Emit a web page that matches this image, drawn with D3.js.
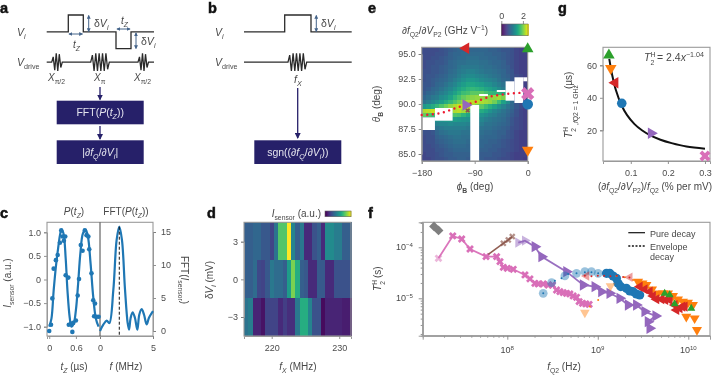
<!DOCTYPE html>
<html>
<head>
<meta charset="utf-8">
<script src="https://cdn.jsdelivr.net/npm/d3@7"></script>
<style>
  body { margin: 0; background: #fff; }
  svg { filter: blur(0.3px); }
  text { font-family: "Liberation Sans", sans-serif; fill: #484848; }
</style>
</head>
<body>
<div id="chart"></div>
<script>
const W = 722, H = 376;

// panel c
const tzFit = [0, .05, .1, .15, .2, .25, .277, .32, .37, .41, .46, .5, .55, .6, .65, .7, .76, .82, .87, .93, .99, 1.05, 1.11];
const iFit = [-1, -.83, -.23, .27, .66, .98, 1.05, .98, .45, -.23, -.8, -1, -.94, -.65, -.09, .55, .98, 1.05, .91, .34, -.37, -.83, -1];
const tzDots = [0, .04, .07, .1, .15, .19, .24, .27, .3, .33, .36, .37, .43, .44, .49, .52, .54, .6, .64, .67, .71, .75, .8, .84, .88, .9, .95, .99, 1.01, 1.03, 1.06, 1.11];
const iDots = [-1.09, -.96, -.4, .23, .41, .52, .78, 1.04, .91, .82, .91, .09, .04, -.96, -.94, -1.11, -.92, -.87, -.34, .01, .73, .61, 1.04, .94, .91, .64, .13, -.44, -.78, -.51, -.79, -.79];
const fftF = [0, .31, .63, .88, 1.26, 1.57, 1.82, 2.07, 2.36, 2.61, 2.74, 2.89, 3.08, 3.3, 3.52, 3.71, 3.93, 4.15, 4.4, 4.62, 5];
const fftV = [0, .96, 1.56, 1.2, 6.26, 13.8, 15.8, 13.8, 6.26, 1.2, .2, 1.97, 2.83, 1.97, .2, 2.5, 3.3, 2.5, 1, 2, 3];
const fftPeak = 1.82;

// panel d, rows are dV = 3, 0, -3
const dVRows = [3, 0, -3];
const fxStart = 215.9, fxStep = 0.6336;
const sensorTop = [.3, .3, .33, .33, .27, .27, .2, .38, .73, .73, 1, .45, .3, .4, .12, .12, .25, .3, .12, .48, .48, .42, .42, .3, .3];
const sensorMid = [.3, .3, .35, .22, .2, .27, .4, .35, .35, .3, .55, .8, .62, .3, .27, .12, .12, .28, .28, .12, .12, .25, .25, .25, .25];
const sensorBot = [.38, .42, .1, .1, .05, .2, .2, .2, .12, .18, .13, .13, .4, .62, .62, .45, .25, .25, .03, .1, .1, .1, .1, .08, .08];

// panel e, top row first, phi -180..0 in 24 columns
const dfdv = [
  [.6,.6,.6,.6,.65,.7,.75,.8,.85,.85,.85,.85,.85,.85,.85,.8,.8,.75,.7,.7,.65,.55,.5,.5],
  [.6,.6,.6,.65,.65,.7,.8,.85,.85,.9,.9,.9,.9,.9,.85,.85,.8,.8,.75,.7,.65,.55,.5,.5],
  [.6,.6,.65,.65,.7,.75,.8,.85,.9,.9,.95,.95,.95,.9,.9,.85,.85,.8,.75,.7,.65,.55,.5,.5],
  [.6,.65,.65,.7,.7,.75,.85,.9,.95,.95,1,1,1,.95,.95,.9,.85,.85,.8,.7,.65,.55,.5,.5],
  [.6,.65,.7,.7,.75,.8,.85,.9,1,1.05,1.05,1.05,1.05,1,.95,.95,.9,.85,.8,.75,.65,.55,.5,.5],
  [.65,.65,.7,.7,.75,.8,.9,.95,1.05,1.1,1.15,1.15,1.1,1.05,1,1,.95,.9,.85,.75,.7,.55,.5,.5],
  [.65,.7,.7,.75,.8,.85,.95,1,1.1,1.2,1.25,1.25,1.2,1.15,1.1,1.05,1,.95,.85,.8,.7,.6,.55,.5],
  [.65,.7,.75,.8,.85,.9,1,1.1,1.2,1.3,1.4,1.4,1.35,1.25,1.2,1.15,1.1,1,.9,.85,.7,.6,.55,.5],
  [.7,.7,.75,.85,.9,1,1.1,1.2,1.35,1.45,1.55,1.55,1.5,1.45,1.35,1.3,1.2,1.1,1,.9,.75,.6,.55,.5],
  [.7,.75,.85,.9,1,1.1,1.2,1.35,1.5,1.6,1.7,1.75,1.7,1.65,1.55,1.5,1.4,1.25,1.1,1,.8,.65,.55,.5],
  [.75,.85,.9,1,1.1,1.2,1.35,1.5,1.65,1.8,1.85,1.95,1.95,1.95,1.85,1.75,1.7,1.7,1.6,1.2,.9,.65,.55,.5],
  [.85,.95,1.05,1.1,1.25,1.35,1.5,1.7,1.85,2,2.1,2.15,2.2,2.2,2.15,2.15,2.2,2.25,2.1,1.5,1,.7,.6,.5],
  [1,1.1,1.2,1.3,1.45,1.6,1.75,1.9,2.05,2.2,2.3,2.35,2.35,2.3,2.25,2.2,2.05,1.8,1.5,1.25,.9,.7,.6,.5],
  [1.4,1.5,1.6,1.75,1.9,2.05,2.2,2.3,2.4,2.4,2.35,2.25,2.1,1.95,1.8,1.65,1.5,1.3,1.15,1,.85,.7,.6,.5],
  [2.3,2.35,2.4,2.3,2.2,2.1,2.05,2.3,2.35,2.25,2.05,1.85,1.7,1.6,1.5,1.35,1.2,1.1,1,.9,.8,.65,.55,.5],
  [2,1.9,1.8,1.8,1.75,1.7,1.7,1.9,1.85,1.7,1.55,1.45,1.4,1.35,1.25,1.15,1.1,1,.95,.85,.75,.65,.55,.5],
  [1,1,1,1.3,1.35,1.4,1.4,1.45,1.4,1.35,1.3,1.25,1.2,1.2,1.1,1.05,1,.95,.9,.8,.7,.6,.55,.5],
  [.9,.9,.9,1.15,1.2,1.2,1.25,1.2,1.2,1.2,1.15,1.1,1.1,1.1,1,1,.95,.9,.85,.8,.7,.6,.55,.5],
  [.7,.7,.75,1,1.05,1.1,1.1,1.1,1.1,1.1,1.05,1,1,1,.95,.95,.9,.85,.8,.75,.65,.6,.55,.5],
  [.65,.65,.7,.85,.95,1,1.05,1.05,1.05,1,1,.95,.95,.95,.9,.9,.85,.8,.8,.7,.65,.55,.5,.5],
  [.6,.65,.65,.8,.85,.9,.95,1,1,.95,.95,.9,.9,.9,.85,.85,.85,.8,.75,.7,.65,.55,.5,.5],
  [.6,.65,.65,.75,.8,.85,.9,.95,.95,.95,.9,.9,.9,.85,.85,.8,.8,.75,.7,.65,.6,.55,.5,.5],
  [.6,.6,.65,.7,.75,.8,.85,.9,.9,.9,.85,.85,.85,.85,.8,.8,.75,.75,.7,.65,.6,.55,.5,.5],
  [.6,.6,.6,.7,.7,.75,.8,.85,.85,.85,.85,.8,.8,.8,.8,.75,.75,.7,.65,.65,.6,.55,.5,.5],
  [.55,.6,.6,.65,.7,.75,.75,.8,.8,.8,.8,.8,.8,.75,.75,.75,.7,.7,.65,.6,.55,.5,.5,.5],
  [.55,.55,.6,.65,.65,.7,.75,.75,.8,.8,.75,.75,.75,.75,.7,.7,.7,.65,.6,.6,.55,.5,.5,.45]
];
const phiStart = -180, phiStep = 7.5, thetaTop = 95.67, thetaStep = .4373;
// missing measurements: [phi0, phi1, theta0, theta1]
const gaps = [
  [-180, -157.5, 87.4, 88.67], [-157.5, -127.5, 88.33, 89.6], [-97.5, -82.5, 84.3, 89.9],
  [-82.5, -67.5, 90.8, 91], [-52.5, -37.5, 91.2, 91.4], [-37.5, -22.5, 90.33, 92.27],
  [-22.5, -7.5, 90.1, 92.67], [-7.5, 0, 92.27, 92.67]
];
const sweetPhi = [-180, -149, -123.5, -93, -64, -36, -8, 0];
const sweetTheta = [88.9, 89.07, 89.57, 90.13, 90.73, 91, 91.13, 91.15];

// panel g
const gFitX = [.042, .05, .06, .075, .09, .11, .13, .15, .18, .21, .25, .3];
const gFitY = [64, 53.9, 44.6, 35.4, 29.3, 23.8, 20, 17.2, 14.2, 12.1, 10, 8.7];

// panel f, [log10 fQ2, log10 T2]
const pink = [[7.239,-4.216],[7.397,-3.778],[7.496,-3.837],[7.588,-4.033],[7.765,-4.183],[7.882,-4.183],[7.919,-4.281],[7.956,-4.392],[8,-4.412],[8.066,-4.431],[8.195,-4.542],[8.25,-4.62],[8.305,-4.706],[8.342,-4.719],[8.397,-4.719],[8.452,-4.739],[8.5,-4.739],[8.544,-4.837],[8.581,-4.869],[8.618,-4.889],[8.654,-4.902],[8.691,-4.915],[8.728,-4.954],[8.765,-4.98],[8.794,-5.065],[8.831,-5.098],[8.868,-5.111],[8.904,-5.118]];
const brown = [[7.79,-4.14],[7.956,-3.922],[8.011,-3.856],[8.055,-3.79]];
const gray = [[7.19,-3.59],[7.24,-3.67]];
const purple = [[8.121,-3.908],[8.195,-3.869],[8.305,-3.987],[8.379,-4.183],[8.654,-4.477],[8.838,-4.739],[8.967,-4.771],[9.04,-4.869],[9.132,-4.902],[9.243,-5],[9.335,-5.131],[9.426,-5.131],[9.518,-5.261],[9.64,-5.346],[9.555,-5.458],[9.574,-5.588]];
const blueLight = [[8.397,-4.902],[8.489,-4.693],[8.636,-4.562],[8.765,-4.51],[8.857,-4.477],[8.93,-4.477],[9.004,-4.51]];
const blueSolid = [[9.096,-4.51],[9.132,-4.51],[9.169,-4.562],[9.206,-4.608],[9.224,-4.706],[9.254,-4.771],[9.316,-4.804],[9.353,-4.856],[9.39,-4.869],[9.426,-4.915],[9.463,-4.935]];
const blueDots = [[8.397,-4.902],[8.526,-4.654],[8.599,-4.608],[8.673,-4.523],[8.765,-4.51],[8.857,-4.49],[8.93,-4.49],[9.004,-4.51]];
const orangeLight = [[8.857,-5.281],[9.14,-4.758]];
const orangeSolid = [[9.445,-4.673],[9.493,-4.706],[9.537,-4.739],[9.599,-4.824],[9.665,-4.902],[9.721,-4.902],[9.776,-4.902],[9.831,-4.954],[9.886,-5.02],[9.941,-5.065],[9.996,-5.085],[10.051,-5.131],[9.978,-5.359],[10.07,-5.392],[10.096,-5.621]];
const orangeDots = [[8.912,-5.163],[9.004,-5.033],[9.206,-4.562],[9.298,-4.588],[9.39,-4.641]];
const redLight = [[8.875,-4.562],[9.353,-4.588]];
const redSolid = [[9.463,-4.771],[9.518,-4.824],[9.574,-4.869],[9.61,-4.954],[9.647,-5.02],[9.702,-5.02],[9.746,-5.033],[9.794,-5.033],[9.849,-5.131],[9.904,-5.196],[9.934,-5.163],[9.96,-5.163],[9.868,-5.229]];
const redDots = [[8.857,-4.56],[8.93,-4.57],[9,-4.56],[9.07,-4.56],[9.14,-4.57],[9.21,-4.56],[9.28,-4.58],[9.35,-4.59]];
const green = [[9.739,-4.902],[9.794,-4.935],[9.849,-5.111],[10.033,-5.196]];

// markers shared by e and g: phi, theta, sensitivity, T2
const markerNames = ["green", "orange", "red", "blue", "purple", "pink"];
const markerPhi = [0, 0, -105, 0, -105, 0];
const markerTheta = [95.5, 85.4, 95.57, 89.97, 89.9, 91.03];
const markerSens = [.041, .046, .0576, .0757, .155, .3];
const markerT2 = [66.3, 58.2, 49.3, 36.6, 18.2, 4.2];

const colors = { blue: "#1f77b4", orange: "#ff7f0e", green: "#2ca02c", red: "#d62728", purple: "#9467bd", pink: "#d96fb8", brown: "#8c564b", gray: "#7f7f7f" };
const rot = { green: 0, purple: 90, orange: 180, red: 270 };
const navy = "#262069", slate = "#45648a", spine = "#9a9a9a", lineBlue = "#1f77b4";

const svg = d3.select("#chart").append("svg").attr("width", W).attr("height", H);
const defs = svg.append("defs");
defs.append("marker").attr("id", "headNavy").attr("viewBox", "0 0 6 6").attr("refX", 5).attr("refY", 3)
  .attr("markerWidth", 6).attr("markerHeight", 6).attr("markerUnits", "userSpaceOnUse").attr("orient", "auto-start-reverse")
  .append("path").attr("d", "M0,0L6,3L0,6Z").attr("fill", navy);
defs.append("marker").attr("id", "headSlate").attr("viewBox", "0 0 6 6").attr("refX", 5).attr("refY", 3)
  .attr("markerWidth", 4).attr("markerHeight", 4).attr("markerUnits", "userSpaceOnUse").attr("orient", "auto-start-reverse")
  .append("path").attr("d", "M0,0L6,3L0,6Z").attr("fill", slate);

// text with sub and superscripts, parts are [string, flags], i italic, s sub, u sup, b bold
function rich(x, y, parts, size, anchor, rotate, fill) {
  const t = svg.append("text").attr("font-size", size).attr("text-anchor", anchor || "start");
  if (rotate) t.attr("transform", `translate(${x},${y})rotate(${rotate})`);
  else t.attr("x", x).attr("y", y);
  if (fill) t.style("fill", fill);
  let shift = 0;
  parts.forEach(p => {
    const flags = p[1] || "";
    const target = flags.includes("s") ? size * .28 : flags.includes("u") ? -size * .38 : 0;
    const ts = t.append("tspan").text(p[0]).attr("dy", target - shift);
    shift = target;
    if (flags.includes("s") || flags.includes("u")) ts.attr("font-size", size * .68);
    if (flags.includes("i")) ts.attr("font-style", "italic");
    if (flags.includes("b")) ts.attr("font-weight", "bold");
    if (fill) ts.style("fill", fill);
  });
  return t;
}

function letter(x, y, s) {
  svg.append("text").attr("x", x).attr("y", y).attr("font-size", 14.5).attr("font-weight", "bold")
    .style("fill", "#111").style("stroke", "#111").style("stroke-width", .5).text(s);
}

function styleAxis(g) {
  g.selectAll("path").attr("stroke", spine).attr("stroke-width", 1);
  g.selectAll("line").attr("stroke", "#777").attr("stroke-width", .8);
  g.selectAll("text").attr("font-size", 9).attr("font-family", "Liberation Sans").style("fill", "#4c4c4c");
  return g;
}

function frame(x0, x1, y0, y1) {
  svg.append("rect").attr("x", x0).attr("y", y0).attr("width", x1 - x0).attr("height", y1 - y0)
    .attr("fill", "none").attr("stroke", spine).attr("stroke-width", 1.1);
}

function marker(g, name, cx, cy, size, opacity) {
  const isBlue = name === "blue", isPink = name === "pink" || name === "brown";
  const type = isBlue ? d3.symbolCircle : name === "gray" ? d3.symbolSquare : isPink ? d3.symbolCross : d3.symbolTriangle;
  const angle = name === "gray" || isPink ? 45 : (rot[name] || 0);
  g.append("path").attr("d", d3.symbol().type(type).size(size)())
    .attr("transform", `translate(${cx},${cy})rotate(${angle})`)
    .attr("fill", colors[name]).attr("fill-opacity", opacity === undefined ? 1 : opacity);
}

// ---- panels a and b, schematics
const pulseT = d3.scaleLinear().domain([0, 1]).range([0, 1]);
const level = d3.scaleLinear().domain([-1, 1]).range([48.7, 15]);
const viA = [[46.7, 0], [68.3, 0], [68.3, 1], [83.3, 1], [83.3, 0], [116, 0], [116, -1], [131, -1], [131, 0], [154, 0]];
const viB = [[244, 0], [284.7, 0], [284.7, 1], [311, 1], [311, 0], [351.7, 0]];
const wiggleShort = [0, .6, -.9, 1, -1, .9, -.6, 0];
const wiggleLong = [0, .8, -1, 1, -1, 1, -1, 1, -1, 1, -.8, 0];
const driveLevel = d3.scaleLinear().domain([-1, 1]).range([71, 53.3]);

function viLine(points) {
  svg.append("path").attr("d", d3.line().x(d => pulseT(d[0])).y(d => level(d[1]))(points))
    .attr("fill", "none").attr("stroke", "#2b2b2b").attr("stroke-width", 1.3);
}
function driveLine(x0, x1, packets) {
  const pts = [[x0, 0]];
  packets.forEach(p => {
    p[2].forEach((v, i) => pts.push([p[0] + i * (p[1] - p[0]) / (p[2].length - 1), v]));
  });
  pts.push([x1, 0]);
  svg.append("path").attr("d", d3.line().x(d => pulseT(d[0])).y(d => driveLevel(d[1]))(pts))
    .attr("fill", "none").attr("stroke", "#2b2b2b").attr("stroke-width", 1.3);
}
function doubleArrow(x1, y1, x2, y2) {
  svg.append("line").attr("x1", x1).attr("y1", y1).attr("x2", x2).attr("y2", y2).attr("stroke", slate).attr("stroke-width", 1)
    .attr("marker-start", "url(#headSlate)").attr("marker-end", "url(#headSlate)");
}
function downArrow(x, y1, y2) {
  svg.append("line").attr("x1", x).attr("x2", x).attr("y1", y1).attr("y2", y2).attr("stroke", navy).attr("stroke-width", 1.3)
    .attr("marker-end", "url(#headNavy)");
}
function navyBox(x0, x1, y0, y1, parts) {
  svg.append("rect").attr("x", x0).attr("y", y0).attr("width", x1 - x0).attr("height", y1 - y0).attr("fill", navy);
  rich((x0 + x1) / 2, (y0 + y1) / 2 + 3.5, parts, 10.5, "middle", 0, "#e4e4ee");
}
// T with H above and 2 below, drawn as separate texts so they stack
function tH2(x, y, size, rotate) {
  const at = (dx, dy) => rotate ? [x + dy, y - dx] : [x + dx, y + dy];
  const a = at(0, 0), b = at(size * .62, -size * .42), c = at(size * .62, size * .36);
  rich(a[0], a[1], [["T", "i"]], size, "start", rotate);
  rich(b[0], b[1], [["H"]], size * .66, "start", rotate);
  rich(c[0], c[1], [["2"]], size * .66, "start", rotate);
}

letter(0, 13, "a");
rich(17, 36, [["V", "i"], ["i", "si"]], 10.5);
rich(17, 66, [["V", "i"], ["drive", "s"]], 10.5);
viLine(viA);
driveLine(46.7, 154, [[51.7, 62.3, wiggleShort], [90.7, 109.3, wiggleLong], [138, 148.5, wiggleShort]]);
doubleArrow(88.7, 15.5, 88.7, 31.5);
rich(94, 27, [["δ"], ["V", "i"], ["i", "si"]], 10.5);
doubleArrow(136, 33, 136, 48.5);
rich(141, 45, [["δ"], ["V", "i"], ["i", "si"]], 10.5);
doubleArrow(69, 34, 82.5, 34);
rich(73, 48, [["t", "i"], ["Z", "si"]], 10);
doubleArrow(117, 29, 130, 29);
rich(121, 24, [["t", "i"], ["Z", "si"]], 10);
rich(48, 81, [["X", "i"], ["π/2", "s"]], 10);
rich(94, 81, [["X", "i"], ["π", "s"]], 10);
rich(134, 81, [["X", "i"], ["π/2", "s"]], 10);
downArrow(100, 87, 99.5);
navyBox(56.7, 143.7, 100.7, 124.3, [["FFT("], ["P", "i"], ["("], ["t", "i"], ["Z", "si"], ["))"]]);
downArrow(100, 126, 139);
navyBox(56.7, 143.7, 140.3, 164, [["|∂"], ["f", "i"], ["Q", "si"], ["/∂"], ["V", "i"], ["i", "si"], ["|"]]);

letter(208, 13, "b");
rich(215, 36, [["V", "i"], ["i", "si"]], 10.5);
rich(215, 66, [["V", "i"], ["drive", "s"]], 10.5);
viLine(viB);
driveLine(244, 351.7, [[288, 306.7, wiggleLong]]);
doubleArrow(316.3, 15.5, 316.3, 31.5);
rich(321, 27, [["δ"], ["V", "i"], ["i", "si"]], 10.5);
rich(294, 83, [["f", "i"], ["X", "si"]], 10.5);
downArrow(297.7, 88, 138);
navyBox(254.3, 341.3, 140.3, 164, [["sgn((∂"], ["f", "i"], ["Q", "si"], ["/∂"], ["V", "i"], ["i", "si"], ["))"]]);

// ---- panel c
letter(0, 218, "c");
const cTop = 222.3, cBot = 336;
const tzX = d3.scaleLinear().domain([-.05, 1.142]).range([47, 100]);
const iY = d3.scaleLinear().domain([-1, 1]).range([326.7, 232.3]);
const fX = d3.scaleLinear().domain([0, 5]).range([100, 153]);
const fftY = d3.scaleLinear().domain([0, 15]).range([331, 232]);

svg.append("g").attr("transform", `translate(47,0)`).call(d3.axisLeft(iY).tickValues([-1, -.5, 0, .5, 1]).tickFormat(d => d === 0 ? "0" : d3.format(".1f")(d)).tickSize(3)).call(styleAxis);
svg.append("g").attr("transform", `translate(0,${cBot})`).call(d3.axisBottom(tzX).tickValues([0, .6]).tickFormat(d => d === 0 ? "0" : "0.6").tickSize(3).tickPadding(6)).call(styleAxis);
svg.append("g").attr("transform", `translate(0,${cBot})`).call(d3.axisBottom(fX).tickValues([0, 5]).tickFormat(d3.format("d")).tickSize(3).tickPadding(6)).call(styleAxis);
svg.append("g").attr("transform", `translate(153,0)`).call(d3.axisRight(fftY).tickValues([0, 5, 10, 15]).tickFormat(d3.format("d")).tickSize(3).tickPadding(5)).call(styleAxis);
frame(47, 153, cTop, cBot);
svg.append("line").attr("x1", 100).attr("x2", 100).attr("y1", cTop).attr("y2", cBot).attr("stroke", "#444").attr("stroke-width", 1);

svg.append("path").datum(tzFit.map((t, i) => [t, iFit[i]]))
  .attr("d", d3.line().x(d => tzX(d[0])).y(d => iY(d[1])).curve(d3.curveCatmullRom))
  .attr("fill", "none").attr("stroke", lineBlue).attr("stroke-width", 2.2);
svg.selectAll(".cdot").data(tzDots).enter().append("circle").attr("class", "cdot")
  .attr("cx", d => tzX(d)).attr("cy", (d, i) => iY(iDots[i])).attr("r", 2.3).attr("fill", lineBlue);
svg.append("path").datum(fftF.map((f, i) => [f, fftV[i]]))
  .attr("d", d3.line().x(d => fX(d[0])).y(d => fftY(d[1])).curve(d3.curveCatmullRom))
  .attr("fill", "none").attr("stroke", lineBlue).attr("stroke-width", 2.2);
svg.append("line").attr("x1", fX(fftPeak)).attr("x2", fX(fftPeak)).attr("y1", fftY(15.8)).attr("y2", cBot)
  .attr("stroke", "#111").attr("stroke-width", 1).attr("stroke-dasharray", "3 2");

rich(74, 215, [["P", "i"], ["("], ["t", "i"], ["Z", "si"], [")"]], 10, "middle");
rich(126, 215, [["FFT("], ["P", "i"], ["("], ["t", "i"], ["Z", "si"], ["))"]], 10, "middle");
rich(11, 283, [["I", "i"], ["sensor", "s"], [" (a.u.)"]], 10, "middle", -90);
rich(181, 280, [["FFT("], ["I", "i"], ["sensor", "s"], [")"]], 10, "middle", 90);
rich(74, 370, [["t", "i"], ["Z", "si"], [" (µs)"]], 10, "middle");
rich(126, 370, [["f", "i"], [" (MHz)"]], 10, "middle");

// ---- panel d
letter(207, 218, "d");
const fxX = d3.scaleLinear().domain([215.9, 231.74]).range([244, 351]);
const dvY = d3.scaleBand().domain(dVRows).range([222.3, 336]);
const sensor = d3.scaleSequential(d3.interpolateViridis).domain([0, 1]);
[sensorTop, sensorMid, sensorBot].forEach((row, r) => {
  svg.selectAll(".d" + r).data(row).enter().append("rect").attr("class", "d" + r)
    .attr("x", (d, i) => fxX(fxStart + i * fxStep)).attr("width", (d, i) => fxX(fxStart + (i + 1) * fxStep) - fxX(fxStart + i * fxStep) + .5)
    .attr("y", dvY(dVRows[r])).attr("height", dvY.bandwidth())
    .attr("shape-rendering", "crispEdges").attr("fill", d => sensor(d));
});
svg.append("g").attr("transform", `translate(244,0)`).call(d3.axisLeft(d3.scaleLinear().domain([-3, 3]).range([317, 241.7])).tickValues(dVRows).tickFormat(d3.format("d")).tickSize(3)).call(styleAxis);
svg.append("g").attr("transform", `translate(0,${cBot})`).call(d3.axisBottom(fxX).tickValues([220, 230]).tickFormat(d3.format("d")).tickSize(3).tickPadding(6)).call(styleAxis);
frame(244, 351, cTop, cBot);
rich(213, 280, [["δ"], ["V", "i"], ["i", "si"], [" (mV)"]], 10, "middle", -90);
rich(298, 370, [["f", "i"], ["X", "si"], [" (MHz)"]], 10, "middle");
rich(321, 217, [["I", "i"], ["sensor", "s"], [" (a.u.)"]], 10, "end");
const barD = d3.scaleLinear().domain([0, 1]).range([325, 351]);
svg.selectAll(".bard").data(d3.range(0, 1, 1 / 26)).enter().append("rect").attr("class", "bard")
  .attr("x", d => barD(d)).attr("width", 1.4).attr("y", 211).attr("height", 5.7).attr("fill", d => sensor(d));
svg.append("rect").attr("x", 325).attr("y", 211).attr("width", 26).attr("height", 5.7).attr("fill", "none").attr("stroke", "#666").attr("stroke-width", .6);

// ---- panel e
letter(368, 13, "e");
const eX0 = 421.7, eX1 = 527.7, eTop = 47.3, eBot = 161;
const phiX = d3.scaleLinear().domain([-180, 0]).range([eX0, eX1]);
const thetaY = d3.scaleLinear().domain([85, 95]).range([154, 54]);
const heat = d3.scaleSequential(d3.interpolateViridis).domain([0, 2.62]);
dfdv.forEach((row, r) => {
  svg.selectAll(".e" + r).data(row).enter().append("rect").attr("class", "e" + r)
    .attr("x", (d, i) => phiX(phiStart + i * phiStep)).attr("width", phiX(phiStep) - phiX(0) + .5)
    .attr("y", thetaY(thetaTop - r * thetaStep)).attr("height", thetaY(0) - thetaY(thetaStep) + .5)
    .attr("shape-rendering", "crispEdges").attr("fill", d => heat(d));
});
svg.selectAll(".gap").data(gaps).enter().append("rect").attr("class", "gap")
  .attr("x", d => phiX(d[0])).attr("width", d => phiX(d[1]) - phiX(d[0]))
  .attr("y", d => thetaY(d[3])).attr("height", d => thetaY(d[2]) - thetaY(d[3])).attr("fill", "#fff");
svg.append("g").attr("transform", `translate(${eX0},0)`).call(d3.axisLeft(thetaY).tickValues([85, 87.5, 90, 92.5, 95]).tickFormat(d3.format(".1f")).tickSize(3)).call(styleAxis);
svg.append("g").attr("transform", `translate(0,${eBot})`).call(d3.axisBottom(phiX).tickValues([-180, -90, 0]).tickFormat(d3.format("d")).tickSize(3).tickPadding(6)).call(styleAxis);
frame(eX0, eX1, eTop, eBot);
rich(380, 104, [["θ", "i"], ["B", "sb"], [" (deg)"]], 10, "middle", -90);
rich(475, 190, [["ϕ", "i"], ["B", "sb"], [" (deg)"]], 10, "middle");
rich(402, 34, [["∂"], ["f", "i"], ["Q2", "s"], ["/∂"], ["V", "i"], ["P2", "s"], [" (GHz V"], ["−1", "u"], [")"]], 10);
svg.append("path").datum(sweetPhi.map((p, i) => [p, sweetTheta[i]]))
  .attr("d", d3.line().x(d => phiX(d[0])).y(d => thetaY(d[1])).curve(d3.curveMonotoneX))
  .attr("fill", "none").attr("stroke", "#ee1c32").attr("stroke-width", 2.4).attr("stroke-linecap", "round").attr("stroke-dasharray", "0 5.6");
const eMarks = svg.append("g");
marker(eMarks, "brown", phiX(-102), thetaY(89.35), 14);
markerNames.forEach((n, i) => marker(eMarks, n, phiX(markerPhi[i]), thetaY(markerTheta[i]), n === "blue" ? 88 : n === "pink" ? 110 : 58));

const barE = d3.scaleLinear().domain([0, 2.47]).range([501.3, 528]);
svg.selectAll(".bare").data(d3.range(0, 2.47, .09)).enter().append("rect").attr("class", "bare")
  .attr("x", d => barE(d)).attr("width", 1.4).attr("y", 24).attr("height", 11.7).attr("fill", d => d3.interpolateViridis(d / 2.47));
svg.append("g").attr("transform", "translate(0,24)").call(d3.axisTop(barE).tickValues([0, 2]).tickFormat(d3.format("d")).tickSize(3).tickPadding(2)).call(styleAxis).select("path").remove();
svg.append("rect").attr("x", 501.3).attr("y", 24).attr("width", 26.7).attr("height", 11.7).attr("fill", "none").attr("stroke", "#666").attr("stroke-width", .6);

// ---- panel g
letter(558, 13, "g");
const gX0 = 603, gX1 = 710;
const sensX = d3.scaleLinear().domain([.0251, .3135]).range([gX0, gX1]);
const t2Y = d3.scaleLinear().domain([20, 60]).range([130.3, 65.3]);
svg.append("g").attr("transform", `translate(${gX0},0)`).call(d3.axisLeft(t2Y).tickValues([20, 40, 60]).tickFormat(d3.format("d")).tickSize(3)).call(styleAxis);
svg.append("g").attr("transform", `translate(0,${eBot})`).call(d3.axisBottom(sensX).tickValues([.1, .2, .3]).tickFormat(d3.format(".1f")).tickSize(3).tickPadding(6)).call(styleAxis);
frame(gX0, gX1, eTop, eBot);
svg.append("path").datum(gFitX.map((x, i) => [x, gFitY[i]]))
  .attr("d", d3.line().x(d => sensX(d[0])).y(d => t2Y(d[1])).curve(d3.curveCatmullRom))
  .attr("fill", "none").attr("stroke", "#111").attr("stroke-width", 2);
const gMarks = svg.append("g");
markerNames.forEach((n, i) => marker(gMarks, n, sensX(markerSens[i]), t2Y(markerT2[i]), n === "blue" ? 72 : n === "pink" ? 75 : 58));
tH2(644, 61, 10.5, 0);
rich(657, 61, [[" = 2.4"], ["x", "i"], ["−1.04", "u"]], 10.5);
tH2(572, 138, 10, -90);
rich(575, 125, [[",", "s"], ["f", "si"], ["Q2", "s"], [" = 1 GHz", "s"]], 10, "start", -90);
rich(572, 89, [[" (µs)"]], 10, "start", -90);
rich(655, 190, [["(∂"], ["f", "i"], ["Q2", "s"], ["/∂"], ["V", "i"], ["P2", "s"], [")/"], ["f", "i"], ["Q2", "s"], [" (% per mV)"]], 10, "middle");

// ---- panel f
letter(368, 218, "f");
const fqX = d3.scaleLog().domain([10 ** 7.065, 10 ** 10.24]).range([422.7, 710]);
const tY = d3.scaleLog().domain([10 ** -5.733, 10 ** -3.51]).range([335.7, 222.3]);
const minorF = [], minorT = [];
[1e7, 1e8, 1e9, 1e10].forEach(b => d3.range(2, 10).forEach(m => { if (b * m > fqX.domain()[0] && b * m < fqX.domain()[1]) minorF.push(b * m); }));
[1e-6, 1e-5, 1e-4].forEach(b => d3.range(2, 10).forEach(m => { if (b * m > tY.domain()[0] && b * m < tY.domain()[1]) minorT.push(b * m); }));
svg.append("g").attr("transform", `translate(0,335.7)`).call(d3.axisBottom(fqX).tickValues(minorF).tickFormat("").tickSize(2)).call(styleAxis);
svg.append("g").attr("transform", `translate(0,335.7)`).call(d3.axisBottom(fqX).tickValues([1e8, 1e9, 1e10]).tickFormat("").tickSize(4)).call(styleAxis);
svg.append("g").attr("transform", `translate(422.7,0)`).call(d3.axisLeft(tY).tickValues(minorT).tickFormat("").tickSize(2)).call(styleAxis);
svg.append("g").attr("transform", `translate(422.7,0)`).call(d3.axisLeft(tY).tickValues([1e-5, 1e-4]).tickFormat("").tickSize(4)).call(styleAxis);
frame(422.7, 710, 222.3, 335.7);
[[1e8, "8"], [1e9, "9"], [1e10, "10"]].forEach(d => rich(fqX(d[0]), 353, [["10"], [d[1], "u"]], 9, "middle"));
[[1e-4, "−4"], [1e-5, "−5"]].forEach(d => rich(413, tY(d[0]) + 3, [["10"], [d[1], "u"]], 9, "end"));
tH2(381, 291, 10, -90);
rich(381, 278, [[" (s)"]], 10, "start", -90);
rich(564, 370, [["f", "i"], ["Q2", "s"], [" (Hz)"]], 10, "middle");

const fLine = d3.line().x(d => fqX(10 ** d[0])).y(d => tY(10 ** d[1]));
const fG = svg.append("g");
function fPath(pts, name, width) {
  fG.append("path").attr("d", fLine(pts)).attr("fill", "none").attr("stroke", colors[name]).attr("stroke-width", width).attr("stroke-opacity", .95);
}
function fMarks(pts, name, size, opacity) {
  pts.forEach(p => marker(fG, name, fqX(10 ** p[0]), tY(10 ** p[1]), size, opacity));
}
function fDots(pts, name) {
  pts.forEach(p => fG.append("circle").attr("cx", fqX(10 ** p[0])).attr("cy", tY(10 ** p[1])).attr("r", 1).attr("fill", colors[name]));
}
fMarks(gray, "gray", 48);
fPath(pink, "pink", 1.8);
fMarks(pink.slice(0, 1), "pink", 38, .5);
fMarks(pink.slice(1), "pink", 38);
fPath(brown, "brown", 1.6);
fMarks(brown.slice(1), "brown", 26, .65);
fPath(purple, "purple", 1.8);
fMarks(purple.slice(0, 2), "purple", 45, .5);
fMarks(purple.slice(2), "purple", 55);
fMarks(blueLight, "blue", 60, .45);
fDots(blueDots, "blue");
fMarks(blueSolid, "blue", 66);
fMarks(orangeLight, "orange", 40, .45);
fDots(orangeDots, "orange");
fMarks(orangeSolid, "orange", 44);
fMarks(redLight, "red", 40, .45);
fDots(redDots, "red");
fMarks(redSolid, "red", 44);
fMarks(green, "green", 28);

svg.append("line").attr("x1", 628.3).attr("x2", 645).attr("y1", 232.7).attr("y2", 232.7).attr("stroke", "#111").attr("stroke-width", 1.2);
svg.append("line").attr("x1", 628.3).attr("x2", 645).attr("y1", 246).attr("y2", 246).attr("stroke", "#111").attr("stroke-width", 1.4).attr("stroke-dasharray", "2 1.6");
rich(650, 236.5, [["Pure decay"]], 9);
rich(650, 249.5, [["Envelope"]], 9);
rich(650, 259.5, [["decay"]], 9);
</script>
</body>
</html>
